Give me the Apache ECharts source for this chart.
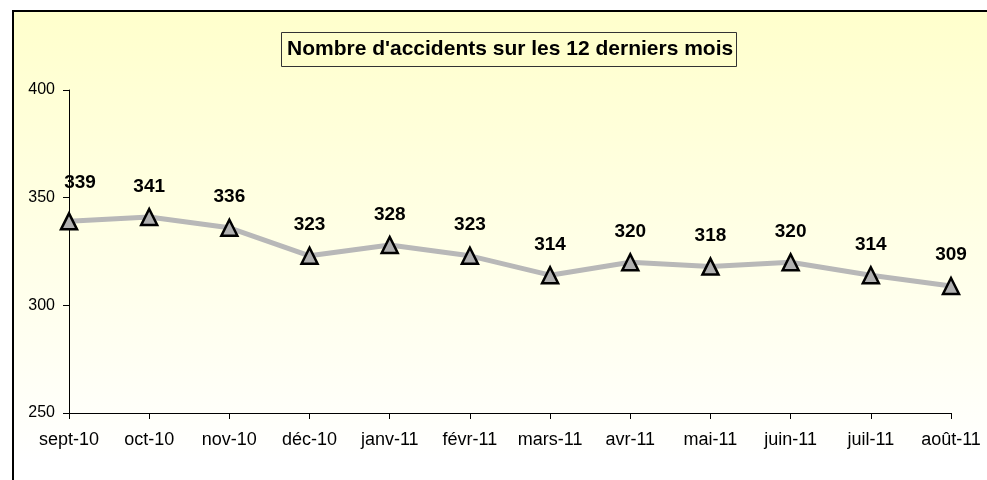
<!DOCTYPE html>
<html>
<head>
<meta charset="utf-8">
<script src="https://cdn.jsdelivr.net/npm/echarts@6/dist/echarts.min.js"></script>
<style>
  html, body { margin: 0; padding: 0; background: #fff; }
  #chart { width: 987px; height: 480px; }
</style>
</head>
<body>
<div id="chart"></div>
<script>
  // données
  var mois = ['sept-10', 'oct-10', 'nov-10', 'déc-10', 'janv-11', 'févr-11',
    'mars-11', 'avr-11', 'mai-11', 'juin-11', 'juil-11', 'août-11']
  var accidents = [339, 341, 336, 323, 328, 323, 314, 320, 318, 320, 314, 309]
  var titre = "Nombre d'accidents sur les 12 derniers mois"

  // la première étiquette est décalée pour ne pas chevaucher l'axe
  var points = accidents.map(function (v, i) {
    return i === 0 ? { value: v, label: { offset: [11, -8] } } : v
  })

  var chart = echarts.init(document.getElementById('chart'))
  chart.setOption({
    animation: false,
    backgroundColor: '#fff',
    graphic: [{
      type: 'rect',
      z: -10,
      shape: { x: 13, y: 11, width: 1000, height: 500 },
      style: {
        fill: new echarts.graphic.LinearGradient(0, 0, 0, 1, [
          { offset: 0, color: '#FFFFCC' },
          { offset: 0.9, color: '#FFFFFF' }
        ]),
        stroke: '#000',
        lineWidth: 2
      }
    }],
    title: {
      text: titre,
      left: 281,
      top: 32,
      padding: [7, 4, 7, 6],
      borderColor: '#333',
      borderWidth: 1,
      backgroundColor: '#FFFFCC',
      textStyle: {
        fontFamily: 'Liberation Sans, Arial',
        fontSize: 21,
        fontWeight: 'bold',
        color: '#000'
      }
    },
    grid: {
      left: 69,
      right: 36,
      top: 90,
      bottom: 67
    },
    xAxis: {
      type: 'category',
      data: mois,
      boundaryGap: false,
      axisLine: { lineStyle: { color: '#000', width: 1 } },
      axisTick: { show: true, interval: 0, length: 6, lineStyle: { color: '#000' } },
      axisLabel: {
        interval: 0,
        margin: 18,
        fontFamily: 'Liberation Sans, Arial',
        fontSize: 18,
        color: '#000'
      },
      splitLine: { show: false }
    },
    yAxis: {
      type: 'value',
      min: 250,
      max: 400,
      interval: 50,
      axisLine: { show: true, lineStyle: { color: '#000', width: 1 } },
      axisTick: { show: true, length: 6, lineStyle: { color: '#000' } },
      axisLabel: {
        margin: 14,
        fontFamily: 'Liberation Sans, Arial',
        fontSize: 16,
        color: '#000'
      },
      splitLine: { show: false }
    },
    series: [{
      type: 'line',
      data: points,
      symbol: 'triangle',
      symbolSize: 16,
      lineStyle: { color: '#b8b8b8', width: 5 },
      itemStyle: { color: '#b0b0b0', borderColor: '#000', borderWidth: 2.5 },
      label: {
        show: true,
        position: 'top',
        distance: 12,
        fontFamily: 'Liberation Sans, Arial',
        fontSize: 19,
        fontWeight: 'bold',
        color: '#000'
      }
    }]
  })
</script>
</body>
</html>
